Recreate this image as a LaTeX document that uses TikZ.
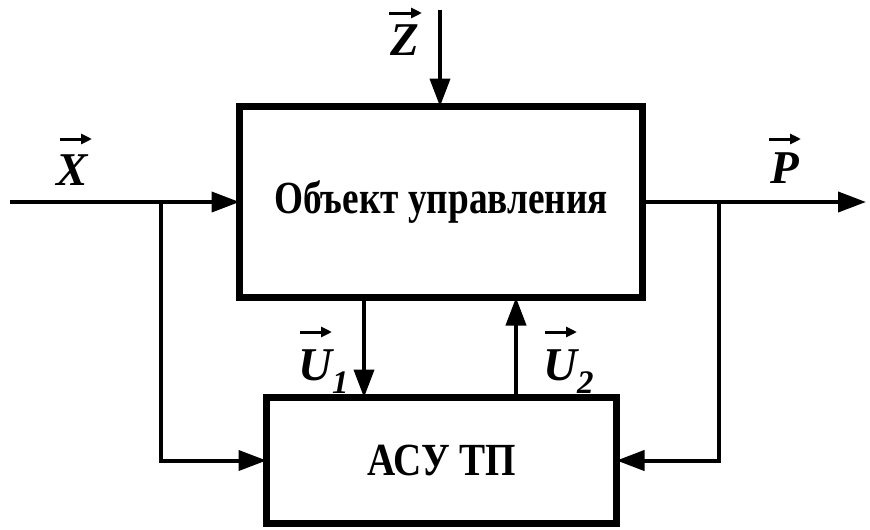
\documentclass[tikz,border=0pt]{standalone}
\usepackage{fontspec}
\usepackage{graphicx}
\setmainfont{Liberation Serif}
\usetikzlibrary{arrows.meta}
\begin{document}
\begin{tikzpicture}[x=1pt,y=-1pt,
  blockbox/.style={draw,line width=7pt,outer sep=0pt,inner sep=0pt,
    font=\bfseries\fontsize{46}{50}\selectfont},
  flow/.style={line width=4pt,-{Triangle[length=28pt,width=20pt]}},
  letterlabel/.style={anchor=base west,inner sep=0pt,
    font=\bfseries\itshape\fontsize{47}{50}\selectfont},
  vecarrow/.style={line width=3pt,-{Triangle[length=11pt,width=10pt]}}]
\useasboundingbox (0,0) rectangle (870,530);
\fill[white] (0,0) rectangle (870,530);
% blocks
\node[blockbox,minimum width=403pt,minimum height=191pt] (obj) at (441,202)
  {\scalebox{0.81}[1]{Объект управления}};
\node[blockbox,minimum width=350pt,minimum height=126pt] (asu) at (441.5,460.5)
  {\scalebox{0.85}[1]{АСУ ТП}};
% coordinates
\coordinate (zs) at (440,10);
\coordinate (xs) at (10,202);
\coordinate (xb) at (161,202);
\coordinate (pe) at (866,202);
\coordinate (pb) at (719,202);
\coordinate (u1) at (364,0);
\coordinate (u2) at (516,0);
% connectors
\draw[flow] (zs) -- (zs |- obj.north);
\draw[flow] (xs) -- (obj.west);
\draw[flow] (xb) |- (asu.west);
\draw[flow] (obj.east) -- (pe);
\draw[flow] (pb) |- (asu.east);
\draw[flow] (obj.south -| u1) -- (asu.north -| u1);
\draw[flow] (asu.north -| u2) -- (obj.south -| u2);
% labels
\node[letterlabel] (lx) at (56,185) {X};
\node[letterlabel] (lz) at (390,55) {Z};
\node[letterlabel] (lp) at (770,183) {P};
\node[letterlabel] (lu1) at (298,380) {U\textsubscript{1}};
\node[letterlabel] (lu2) at (543,380) {U\textsubscript{2}};
\draw[vecarrow] ([shift={(4,-46)}]lx.base west) -- ([shift={(36,-46)}]lx.base west);
\draw[vecarrow] ([shift={(-1,-42)}]lz.base west) -- ([shift={(32,-42)}]lz.base west);
\draw[vecarrow] ([shift={(-1,-44)}]lp.base west) -- ([shift={(31,-44)}]lp.base west);
\draw[vecarrow] ([shift={(2,-48)}]lu1.base west) -- ([shift={(34,-48)}]lu1.base west);
\draw[vecarrow] ([shift={(2,-48)}]lu2.base west) -- ([shift={(34,-48)}]lu2.base west);
\end{tikzpicture}
\end{document}
